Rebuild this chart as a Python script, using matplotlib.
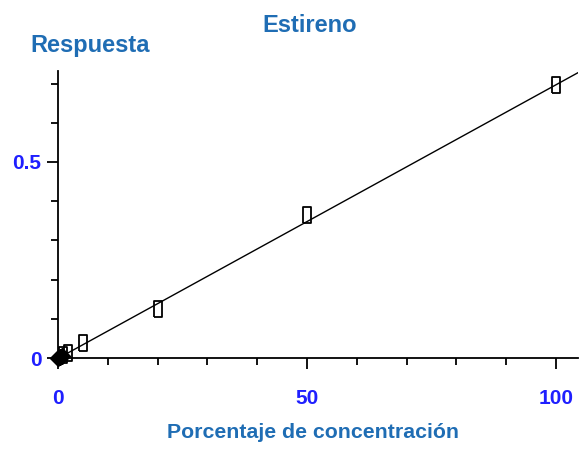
import matplotlib.pyplot as plt
from matplotlib.ticker import MultipleLocator

# calibration standards (concentration %, response)
conc = [1, 2, 5, 20, 50, 100]
resp = [0.008, 0.014, 0.038, 0.125, 0.365, 0.697]
# blank / lowest levels, drawn as filled marks
conc_low = [0, 0.4, 0.8]
resp_low = [0.0, 0.002, 0.004]

# fitted calibration line
slope = 0.00698
intercept = -0.001
x_line = [0, 104.4]

blue_title = '#1f6db4'
blue_tick = '#1f1fff'
plt.rcParams['font.family'] = ['Liberation Sans', 'DejaVu Sans']

fig = plt.figure(figsize=(5.82, 4.51), dpi=100)
ax = fig.add_axes([58/582, 93/451, 520/582, 287/451])

ax.plot(x_line, [slope*v + intercept for v in x_line], color='black', lw=1)
# tall hollow rectangles for the standards
rect = [(-0.5, -1), (0.5, -1), (0.5, 1), (-0.5, 1), (-0.5, -1)]
ax.plot(conc, resp, ls='none', marker=rect, markersize=11.5, markerfacecolor='none',
        markeredgecolor='black', markeredgewidth=1.3, clip_on=False, zorder=3)
ax.plot(conc_low, resp_low, ls='none', marker='D', markersize=8.5, color='black',
        clip_on=False, zorder=4)

ax.set_xlim(0, 104.4)
ax.set_ylim(0, 0.732)
ax.xaxis.set_major_locator(MultipleLocator(50))
ax.xaxis.set_minor_locator(MultipleLocator(10))
ax.yaxis.set_major_locator(MultipleLocator(0.5))
ax.yaxis.set_minor_locator(MultipleLocator(0.1))
ax.xaxis.set_major_formatter(lambda v, p: f'{v:g}')
ax.yaxis.set_major_formatter(lambda v, p: f'{v:g}')

for s in ['top', 'right']:
    ax.spines[s].set_visible(False)
for s in ['left', 'bottom']:
    ax.spines[s].set_linewidth(1.3)

ax.tick_params(which='major', length=8, width=1.3, direction='out')
ax.tick_params(which='minor', length=5, width=1.3, direction='out')
ax.tick_params(axis='x', which='major', pad=14)
ax.tick_params(axis='y', which='major', pad=4)
for lbl in ax.get_xticklabels() + ax.get_yticklabels():
    lbl.set_color(blue_tick)
    lbl.set_fontweight('bold')
    lbl.set_fontsize(15)

fig.text(310/582, 1 - 32/451, 'Estireno', color=blue_title, fontsize=17,
         fontweight='bold', ha='center', va='baseline')
fig.text(30/582, 1 - 52/451, 'Respuesta', color=blue_title, fontsize=17,
         fontweight='bold', ha='left', va='baseline')
fig.text(313/582, 1 - 438/451, 'Porcentaje de concentración', color=blue_title,
         fontsize=15.3, fontweight='bold', ha='center', va='baseline')

fig.savefig('out.png', dpi=100)
